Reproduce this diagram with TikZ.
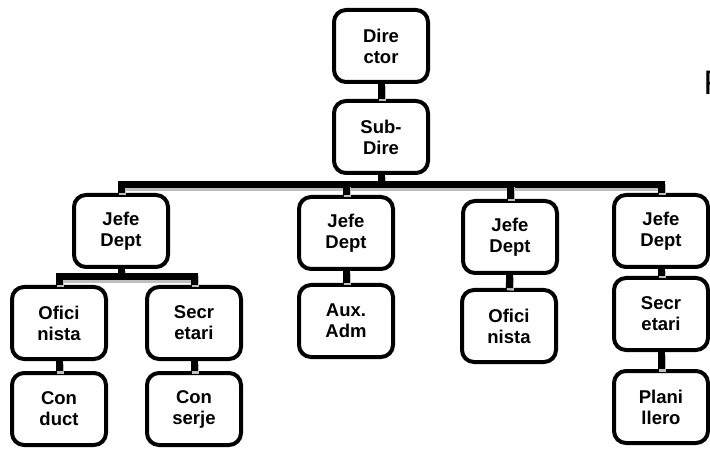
\documentclass[tikz,border=0pt]{standalone}
\usepackage{fontspec}
\setmainfont{Liberation Sans}
\usepackage{tikz}
\usetikzlibrary{positioning}
\tikzstyle{block} = [draw, rectangle, rounded corners=12pt, line width=4pt, minimum width=94pt, minimum height=72pt, align=center, inner sep=0pt, font=\fontsize{18.5}{21}\selectfont\bfseries]
\tikzstyle{conn} = [line width=7pt, preaction={draw=black!25, line width=7pt, transform canvas={shift={(1pt,-2.5pt)}}}]

\begin{document}
\begin{tikzpicture}[x=1pt, y=-1pt]
    \useasboundingbox (0,0) rectangle (710,449);
    % Drawing blocks and nodes
    \node [block] (dir) at (381,46) {Dire\\ctor};
    \node [block] (sub) at (381,137) {Sub-\\Dire};
    \node [block] (j1) at (121,231) {Jefe\\Dept};
    \node [block] (j2) at (346,233) {Jefe\\Dept};
    \node [block] (j3) at (510,237) {Jefe\\Dept};
    \node [block] (j4) at (661,231) {Jefe\\Dept};
    \node [block] (o1) at (59,323) {Ofici\\nista};
    \node [block] (s1) at (194,323) {Secr\\etari};
    \node [block] (a2) at (346,321) {Aux.\\Adm};
    \node [block] (o3) at (509,326) {Ofici\\nista};
    \node [block] (s4) at (661,314) {Secr\\etari};
    \node [block] (c1) at (59,409) {Con\\duct};
    \node [block] (c2) at (194,409) {Con\\serje};
    \node [block] (p4) at (661,407) {Plani\\llero};
    \node [anchor=base west, font=\fontsize{34}{34}\selectfont] (title) at (700,95) {F};
    \coordinate (hub) at (381,185);
    \coordinate (hub1) at (121,277);

    % Connectors
    \draw [conn] (dir) -- (sub);
    \draw [conn] (sub) -- (hub);
    \draw [conn] (j1.north) |- (hub) -| (j4.north);
    \draw [conn] (j2.north) -- (j2.north |- hub);
    \draw [conn] (j3.north) -- (j3.north |- hub);
    \draw [conn] (j1) -- (hub1);
    \draw [conn] (o1.north) |- (hub1) -| (s1.north);
    \draw [conn] (o1) -- (c1);
    \draw [conn] (s1) -- (c2);
    \draw [conn] (j2) -- (a2);
    \draw [conn] (j3) -- (o3);
    \draw [conn] (j4) -- (s4);
    \draw [conn] (s4) -- (p4);
\end{tikzpicture}
\end{document}
